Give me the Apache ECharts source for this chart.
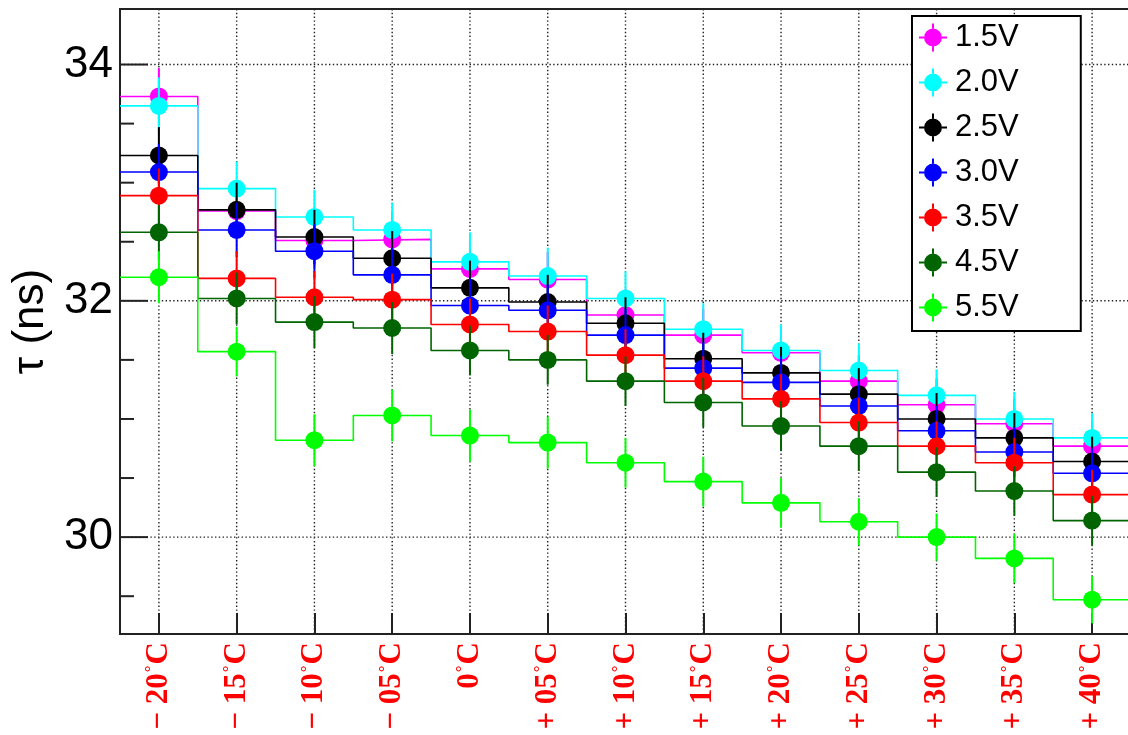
<!DOCTYPE html>
<html>
<head>
<meta charset="utf-8">
<script src="https://cdn.jsdelivr.net/npm/echarts@6/dist/echarts.min.js"></script>
<style>
html,body{margin:0;padding:0;background:#fff;}
#chart{width:1128px;height:735px;}
</style>
</head>
<body>
<div id="chart"></div>
<script>
// ---- data ----
const categories = ['− 20°C', '− 15°C', '− 10°C', '− 05°C', '0°C', '+ 05°C', '+ 10°C',
  '+ 15°C', '+ 20°C', '+ 25°C', '+ 30°C', '+ 35°C', '+ 40°C'];
const seriesNames = ['1.5V', '2.0V', '2.5V', '3.0V', '3.5V', '4.5V', '5.5V'];
const v15 = [33.73, 32.76, 32.51, 32.52, 32.27, 32.18, 31.88, 31.71, 31.56, 31.32, 31.12, 30.96, 30.77];
const v20 = [33.65, 32.95, 32.71, 32.60, 32.33, 32.21, 32.02, 31.76, 31.58, 31.41, 31.20, 31.00, 30.84];
const v25 = [33.23, 32.77, 32.54, 32.36, 32.11, 31.99, 31.81, 31.51, 31.39, 31.21, 31.00, 30.84, 30.64];
const v30 = [33.09, 32.60, 32.42, 32.22, 31.96, 31.92, 31.71, 31.43, 31.31, 31.11, 30.90, 30.72, 30.54];
const v35 = [32.89, 32.19, 32.03, 32.01, 31.80, 31.74, 31.54, 31.32, 31.17, 30.97, 30.77, 30.63, 30.36];
const v45 = [32.58, 32.02, 31.82, 31.77, 31.58, 31.50, 31.32, 31.14, 30.94, 30.77, 30.55, 30.39, 30.14];
const v55 = [32.20, 31.57, 30.82, 31.03, 30.86, 30.80, 30.63, 30.47, 30.29, 30.13, 30.00, 29.82, 29.47];
const e15 = [0.24, 0.23, 0.23, 0.23, 0.23, 0.23, 0.22, 0.22, 0.22, 0.22, 0.22, 0.21, 0.21];
const e20 = [0.24, 0.23, 0.23, 0.23, 0.25, 0.24, 0.23, 0.22, 0.22, 0.23, 0.22, 0.23, 0.21];
const e25 = [0.24, 0.23, 0.23, 0.23, 0.23, 0.23, 0.22, 0.22, 0.22, 0.22, 0.22, 0.21, 0.21];
const e30 = [0.24, 0.23, 0.23, 0.23, 0.23, 0.22, 0.22, 0.22, 0.22, 0.21, 0.21, 0.21, 0.21];
const e35 = [0.23, 0.23, 0.22, 0.22, 0.22, 0.22, 0.22, 0.21, 0.21, 0.21, 0.21, 0.21, 0.21];
const e45 = [0.23, 0.22, 0.22, 0.22, 0.21, 0.21, 0.21, 0.21, 0.21, 0.21, 0.21, 0.21, 0.21];
const e55 = [0.22, 0.21, 0.22, 0.22, 0.22, 0.22, 0.21, 0.21, 0.21, 0.20, 0.20, 0.21, 0.20];
const yMajorTicks = [30, 32, 34];
const yMinorTicks = [29.5, 30.5, 31, 31.5, 32.5, 33, 33.5];

const values = [v15, v20, v25, v30, v35, v45, v55];
const errors = [e15, e20, e25, e30, e35, e45, e55];
const colors = ['#ff00ff', '#00ffff', '#000000', '#0000ff', '#ff0000', '#006400', '#00ff00'];

const Y_MIN = 29.18, Y_MAX = 34.47;
const X_MIN = -0.5, X_MAX = categories.length - 0.5;
const xTicks = categories.map((c, i) => i);

const legendIcon = 'path://M5,14 A9,9 0 1,1 23,14 A9,9 0 1,1 5,14 Z M0,13 L5,13 L5,15 L0,15 Z M23,13 L28,13 L28,15 L23,15 Z M13,0 L15,0 L15,5 L13,5 Z M13,23 L15,23 L15,28 L13,28 Z';

const series = [];
// grid lines (dotted)
series.push({
  type: 'custom', name: 'gridx', z: 1, silent: true,
  data: xTicks.map(x => [x, Y_MIN]),
  encode: {x: 0, y: 1},
  renderItem: function (params, api) {
    const cs = params.coordSys;
    const p = api.coord([api.value(0), api.value(1)]);
    return {type: 'line', shape: {x1: p[0], y1: cs.y, x2: p[0], y2: cs.y + cs.height},
      style: {stroke: '#222', lineWidth: 1.4, lineDash: [1.4, 2.4]}};
  }
});
series.push({
  type: 'custom', name: 'gridy', z: 1, silent: true,
  data: yMajorTicks.map(y => [X_MIN, y]),
  encode: {x: 0, y: 1},
  renderItem: function (params, api) {
    const cs = params.coordSys;
    const p = api.coord([api.value(0), api.value(1)]);
    return {type: 'line', shape: {x1: cs.x, y1: p[1], x2: cs.x + cs.width, y2: p[1]},
      style: {stroke: '#222', lineWidth: 1.4, lineDash: [1.4, 2.4]}};
  }
});
// y tick marks drawn through the y scale
series.push({
  type: 'custom', name: 'yticks', z: 5, silent: true,
  data: yMajorTicks.map(y => [X_MIN, y, 28]).concat(yMinorTicks.map(y => [X_MIN, y, 14])),
  encode: {x: 0, y: 1},
  renderItem: function (params, api) {
    const cs = params.coordSys;
    const p = api.coord([api.value(0), api.value(1)]);
    return {type: 'line', shape: {x1: cs.x, y1: p[1], x2: cs.x + api.value(2), y2: p[1]},
      style: {stroke: '#222', lineWidth: 2}};
  }
});

seriesNames.forEach((name, k) => {
  const vals = values[k], errs = errors[k], col = colors[k];
  const stepData = [];
  vals.forEach((v, i) => { stepData.push([i - 0.5, v]); stepData.push([i + 0.5, v]); });
  series.push({
    type: 'line', name: name, z: 10 + k * 3, data: stepData, showSymbol: false, symbol: 'none',
    lineStyle: {color: col, width: 1.6}, itemStyle: {color: col}, silent: true, clip: true
  });
  series.push({
    type: 'custom', name: name, z: 11 + k * 3, silent: true,
    data: vals.map((v, i) => [i, v, errs[i]]),
    encode: {x: 0, y: 1},
    itemStyle: {color: col},
    renderItem: function (params, api) {
      const x = api.value(0), y = api.value(1), e = api.value(2);
      const a = api.coord([x, y - e]), b = api.coord([x, y + e]);
      return {type: 'line', shape: {x1: a[0], y1: a[1], x2: b[0], y2: b[1]},
        style: {stroke: col, lineWidth: 2}};
    }
  });
  series.push({
    type: 'scatter', name: name, z: 12 + k * 3, silent: true,
    data: vals.map((v, i) => [i, v]),
    symbol: 'circle', symbolSize: 18,
    itemStyle: {color: col, opacity: 1}
  });
});

const chart = echarts.init(document.getElementById('chart'), null, {renderer: 'canvas'});
chart.setOption({
  animation: false,
  backgroundColor: '#fff',
  grid: {left: 120, top: 9, right: -3, bottom: 101, show: true, borderColor: '#222', borderWidth: 2,
    backgroundColor: 'transparent', containLabel: false, outerBoundsMode: 'none'},
  legend: {
    orient: 'vertical', left: 912, top: 16, z: 100,
    padding: [6, 62, 8, 7], itemGap: 14, itemWidth: 28, itemHeight: 28,
    backgroundColor: '#fff', borderColor: '#000', borderWidth: 2, borderRadius: 0,
    selectedMode: false,
    textStyle: {fontFamily: 'Liberation Sans', fontSize: 31, color: '#000', lineHeight: 28, padding: [0, 0, 0, 3]},
    data: seriesNames.map((n, k) => ({name: n, icon: legendIcon, itemStyle: {color: colors[k]}}))
  },
  xAxis: {
    type: 'value', min: X_MIN, max: X_MAX,
    axisLine: {show: false},
    splitLine: {show: false},
    axisTick: {show: true, inside: true, length: 21, customValues: xTicks, lineStyle: {color: '#222', width: 2}},
    axisLabel: {
      show: true, customValues: xTicks, rotate: 90, margin: 8,
      formatter: function (v) { const t = categories[Math.round(v)]; return t ? t.replace('°', '{s|°}') : ''; },
      color: '#ff0000', fontFamily: 'Liberation Serif', fontWeight: 'bold', fontSize: 31,
      rich: {s: {fontFamily: 'Liberation Serif', fontSize: 17, color: '#ff0000', verticalAlign: 'top', padding: [0, 1, 13, 1]}}
    }
  },
  yAxis: {
    type: 'value', min: Y_MIN, max: Y_MAX, position: 'left',
    name: 'τ (ns)', nameLocation: 'middle', nameGap: 62, nameRotate: 90,
    nameTextStyle: {fontFamily: 'Liberation Sans', fontSize: 44, color: '#000'},
    axisLine: {show: false},
    splitLine: {show: false},
    axisTick: {show: false},
    axisLabel: {show: true, customValues: yMajorTicks, margin: 7, color: '#000',
      fontFamily: 'Liberation Sans', fontSize: 44}
  },
  series: series
});
</script>
</body>
</html>
